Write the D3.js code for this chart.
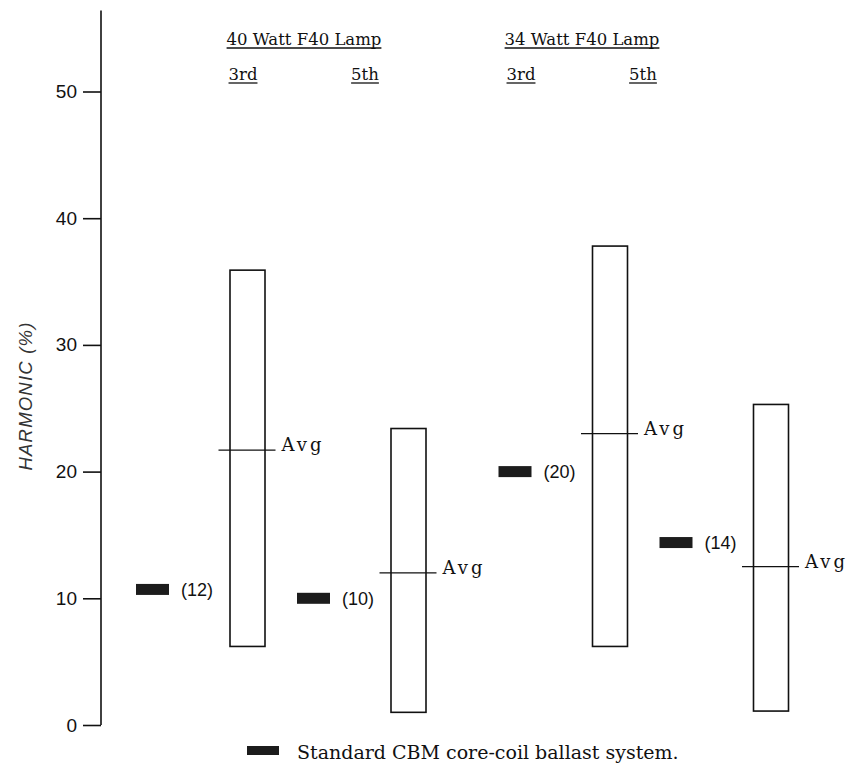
<!DOCTYPE html>
<html>
<head>
<meta charset="utf-8">
<script src="https://cdn.jsdelivr.net/npm/d3@7"></script>
<style>
  html, body { margin: 0; padding: 0; background: #fff; }
  svg { display: block; }
</style>
</head>
<body>
<svg id="chart" width="848" height="768"></svg>
<script>
// ---- data ----
const lamps = ["40 Watt F40 Lamp", "34 Watt F40 Lamp"];
const harmonics = ["3rd", "5th"];
const seriesLamp = ["40 Watt F40 Lamp", "40 Watt F40 Lamp", "34 Watt F40 Lamp", "34 Watt F40 Lamp"];
const seriesHarmonic = ["3rd", "5th", "3rd", "5th"];
const rangeLow = [6.2, 1.0, 6.2, 1.1];
const rangeHigh = [35.9, 23.4, 37.8, 25.3];
const avgValues = [21.7, 12.0, 23.0, 12.5];
const cbmValues = [10.7, 10.0, 20.0, 14.4];
const cbmLabels = ["(12)", "(10)", "(20)", "(14)"];
const yTicks = [0, 10, 20, 30, 40, 50];
const yLabel = "HARMONIC (%)";
const avgLabel = "Avg";
const legendLabel = "Standard CBM core-coil ballast system.";

// ---- layout ----
const svg = d3.select("#chart");
const serif = "'DejaVu Serif', serif";
const sans = "'Liberation Sans', Arial, sans-serif";

const y = d3.scaleLinear().domain([0, 50]).range([725, 91.5]);
const axisX = 101;

const outer = d3.scaleBand().domain(lamps).range([146.75, 871.75]);
const inner = d3.scalePoint().domain(harmonics).range([-80.5, 80.5]);
const cx = i => outer(seriesLamp[i]) + outer.bandwidth() / 2 + inner(seriesHarmonic[i]);

const headerX = d3.scalePoint().domain(lamps).range([304, 582]);
const subX = d3.scalePoint().domain(harmonics).range([-61, 61]);

const boxW = 35, markW = 33, markH = 11, markOffset = 95;

// ---- axis ----
const axis = d3.axisLeft(y).tickValues(yTicks).tickSize(18).tickSizeOuter(0).tickPadding(6);
const gAxis = svg.append("g").attr("transform", `translate(${axisX},0)`).call(axis);
gAxis.select(".domain").remove();
gAxis.selectAll(".tick line").attr("stroke", "#111").attr("stroke-width", 1.6);
gAxis.selectAll(".tick text").attr("font-family", sans).attr("font-size", 19).attr("fill", "#111");
svg.append("line")
  .attr("x1", axisX).attr("x2", axisX)
  .attr("y1", y(56.4)).attr("y2", y(0))
  .attr("stroke", "#111").attr("stroke-width", 1.6);

svg.append("text")
  .attr("transform", `translate(32,396) rotate(-90)`)
  .attr("text-anchor", "middle")
  .attr("font-family", sans).attr("font-style", "italic")
  .attr("font-size", 18.5).attr("letter-spacing", 1.2)
  .attr("fill", "#333")
  .text(yLabel);

// ---- headers ----
function underlined(sel, x, yb, txt, size) {
  const t = sel.append("text")
    .attr("x", x).attr("y", yb).attr("text-anchor", "middle")
    .attr("font-family", serif).attr("font-size", size).attr("fill", "#111")
    .text(txt);
  const w = t.node().getComputedTextLength();
  sel.append("line")
    .attr("x1", x - w / 2).attr("x2", x + w / 2)
    .attr("y1", yb + 3).attr("y2", yb + 3)
    .attr("stroke", "#111").attr("stroke-width", 1.3);
}
lamps.forEach(l => {
  underlined(svg, headerX(l), 45, l, 16.5);
  harmonics.forEach(h => underlined(svg, headerX(l) + subX(h), 80, h, 16.5));
});

// ---- range boxes ----
const idx = d3.range(rangeLow.length);
svg.selectAll("rect.range").data(idx).join("rect")
  .attr("class", "range")
  .attr("x", i => cx(i) - boxW / 2)
  .attr("y", i => y(rangeHigh[i]))
  .attr("width", boxW)
  .attr("height", i => y(rangeLow[i]) - y(rangeHigh[i]))
  .attr("fill", "none").attr("stroke", "#111").attr("stroke-width", 1.6);

// ---- avg lines ----
svg.selectAll("line.avg").data(idx).join("line")
  .attr("class", "avg")
  .attr("x1", i => cx(i) - 29).attr("x2", i => cx(i) + 28)
  .attr("y1", i => y(avgValues[i])).attr("y2", i => y(avgValues[i]))
  .attr("stroke", "#111").attr("stroke-width", 1.3);
svg.selectAll("text.avg").data(idx).join("text")
  .attr("class", "avg")
  .attr("x", i => cx(i) + 34).attr("y", i => y(avgValues[i]) + 1)
  .attr("font-family", serif).attr("font-size", 18).attr("letter-spacing", 3)
  .attr("fill", "#111")
  .text(avgLabel);

// ---- CBM markers ----
svg.selectAll("rect.cbm").data(idx).join("rect")
  .attr("class", "cbm")
  .attr("x", i => cx(i) - markOffset - markW / 2)
  .attr("y", i => y(cbmValues[i]) - markH / 2)
  .attr("width", markW).attr("height", markH)
  .attr("fill", "#1c1c1c");
svg.selectAll("text.cbm").data(idx).join("text")
  .attr("class", "cbm")
  .attr("x", i => cx(i) - markOffset + markW / 2 + 12)
  .attr("y", i => y(cbmValues[i]))
  .attr("dy", "0.35em")
  .attr("font-family", sans).attr("font-size", 18).attr("fill", "#111")
  .text(i => cbmLabels[i]);

// ---- legend ----
svg.append("rect").attr("x", 247).attr("y", 746).attr("width", 32).attr("height", 9).attr("fill", "#1c1c1c");
svg.append("text").attr("x", 297).attr("y", 759)
  .attr("font-family", serif).attr("font-size", 19).attr("fill", "#111")
  .text(legendLabel);
</script>
</body>
</html>
